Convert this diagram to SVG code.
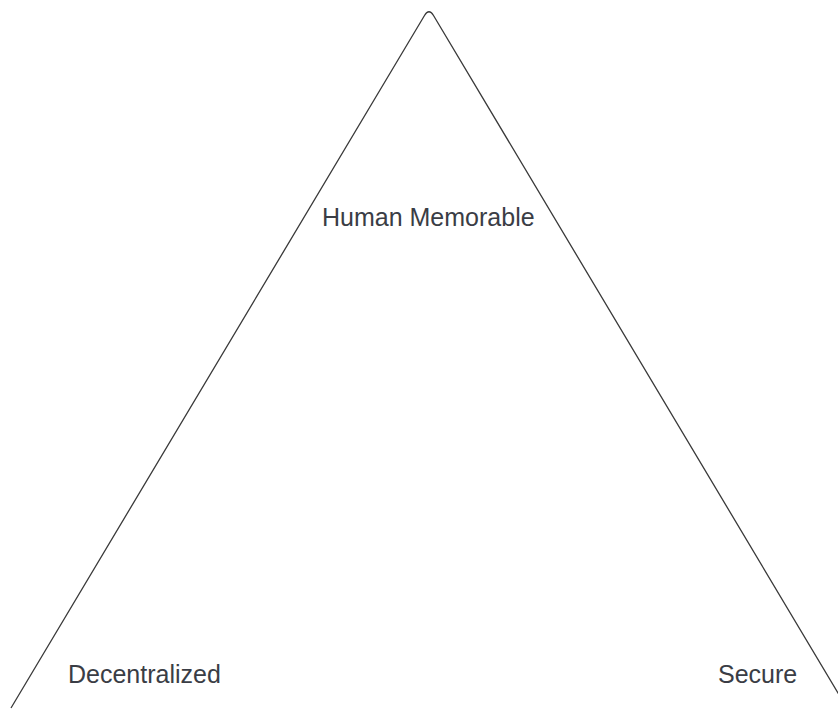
<svg xmlns="http://www.w3.org/2000/svg" width="838" height="709" viewBox="0 0 838 709">
<style>
.lbl{font-family:"Liberation Sans",Arial,sans-serif;font-size:25px;fill:#3a3d45}
.edge{fill:none;stroke:#3a3a3a;stroke-width:1.3;stroke-linejoin:round}
</style>
<rect width="838" height="709" fill="#ffffff"/>
<g id="connectors">
<path class="edge" d="M 11 708 L 424.5 15.5 Q 429 8 433.5 15.5 L 847 708"/>
</g>
<g id="human-memorable"><text class="lbl" x="322" y="226">Human Memorable</text></g>
<g id="decentralized"><text class="lbl" x="68" y="683">Decentralized</text></g>
<g id="secure"><text class="lbl" x="718" y="683">Secure</text></g>
</svg>
